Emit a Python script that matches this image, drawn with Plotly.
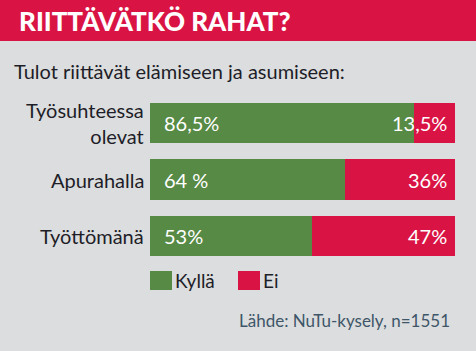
import plotly.graph_objects as go

categories = ["Työsuhteessa<br>olevat", "Apurahalla", "Työttömänä"]
yes_values = [86.5, 64, 53]
no_values = [13.5, 36, 47]
yes_labels = ["86,5%", "64 %", "53%"]
no_labels = ["13,5%", "36%", "47%"]
series_names = ["Kyllä", "Ei"]

GREEN = "#578a45"
RED = "#d91444"
BG = "#dcdddf"
TEXT = "#1e1e28"
FONT = "Lato"

W, H = 476, 351
def py(px):
    return 1 - px / H
def px_(x):
    return x / W

fig = go.Figure()
fig.add_trace(go.Bar(y=categories, x=yes_values, orientation="h", marker=dict(color=GREEN, line=dict(width=0)),
                     name=series_names[0], showlegend=False, hoverinfo="skip"))
fig.add_trace(go.Bar(y=categories, x=no_values, orientation="h", marker=dict(color=RED, line=dict(width=0)),
                     name=series_names[1], showlegend=False, hoverinfo="skip"))

annotations = []
for c, yl, nl in zip(categories, yes_labels, no_labels):
    annotations.append(dict(x=0, y=c, xref="x", yref="y", text=yl, showarrow=False, xanchor="left",
                            xshift=12, font=dict(family=FONT, size=20, color="white")))
    annotations.append(dict(x=100, y=c, xref="x", yref="y", text=nl, showarrow=False, xanchor="right",
                            xshift=-6, font=dict(family=FONT, size=20, color="white")))
    annotations.append(dict(x=px_(146), y=c, xref="paper", yref="y", text=c, showarrow=False, xanchor="right",
                            align="right", font=dict(family=FONT, size=20, color=TEXT)))

# title and subtitle
annotations.append(dict(x=px_(17), y=py(21), xref="paper", yref="paper", text="RIITTÄVÄTKÖ RAHAT?",
                        showarrow=False, xanchor="left", yanchor="middle",
                        font=dict(family="Lato", size=26, color="white", weight=900)))
annotations.append(dict(x=px_(12), y=py(71), xref="paper", yref="paper", text="Tulot riittävät elämiseen ja asumiseen:",
                        showarrow=False, xanchor="left", yanchor="middle",
                        font=dict(family=FONT, size=20, color=TEXT)))
# legend
legend_items = [(150, GREEN, series_names[0]), (238, RED, series_names[1])]
shapes = [dict(type="rect", xref="paper", yref="paper", x0=0, x1=1, y0=py(41), y1=1,
               fillcolor=RED, line=dict(width=0), layer="below")]
for x0, col, name in legend_items:
    shapes.append(dict(type="rect", xref="paper", yref="paper", x0=px_(x0), x1=px_(x0 + 22),
                       y0=py(290), y1=py(271), fillcolor=col, line=dict(width=0)))
    annotations.append(dict(x=px_(x0 + 23), y=py(280.5), xref="paper", yref="paper", text=name,
                            showarrow=False, xanchor="left", yanchor="middle",
                            font=dict(family=FONT, size=19, color=TEXT)))
annotations.append(dict(x=px_(452), y=py(320), xref="paper", yref="paper", text="Lähde: NuTu-kysely, n=1551",
                        showarrow=False, xanchor="right", yanchor="middle",
                        font=dict(family=FONT, size=17, color="#3e5668")))

fig.update_layout(
    width=W, height=H, margin=dict(l=0, r=0, t=0, b=0),
    paper_bgcolor=BG, plot_bgcolor=BG, barmode="stack", bargap=0.29,
    xaxis=dict(domain=[px_(150), px_(455)], range=[0, 100], visible=False, fixedrange=True),
    yaxis=dict(domain=[py(264.25), py(94.75)], categoryorder="array", categoryarray=categories,
               autorange="reversed", showticklabels=False, showgrid=False, zeroline=False, fixedrange=True),
    annotations=annotations, shapes=shapes, showlegend=False,
)
fig.write_html("out.html")
